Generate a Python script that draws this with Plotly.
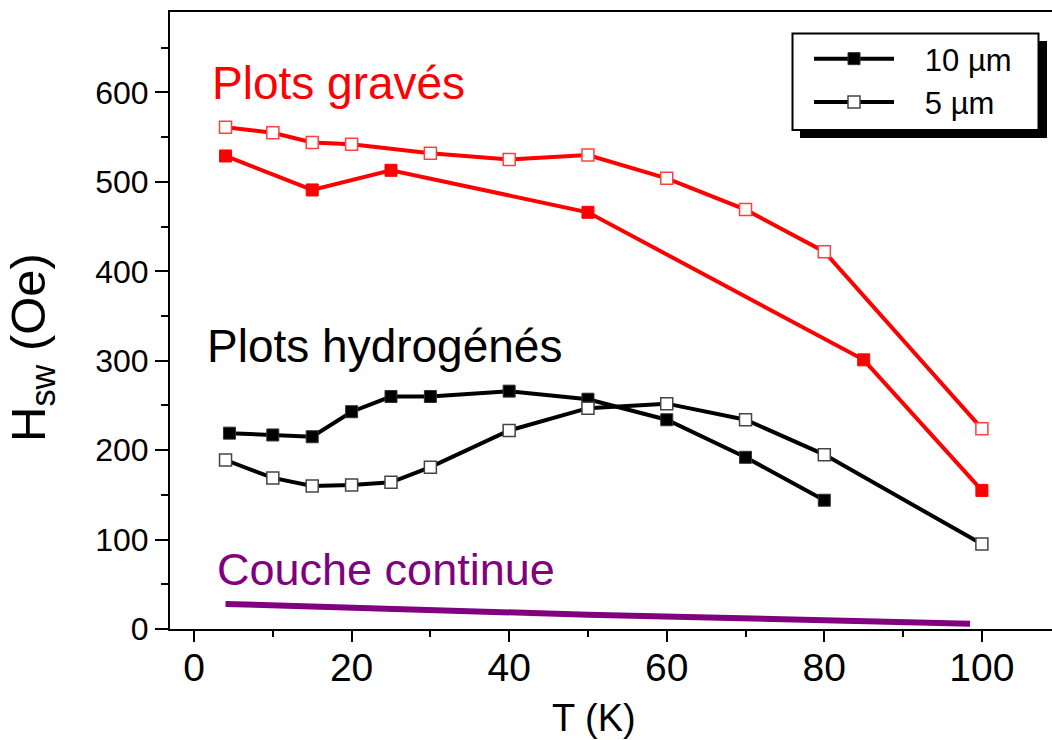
import plotly.graph_objects as go

# Switching field vs temperature
T_grave_10 = [4, 15, 25, 50, 85, 100]
H_grave_10 = [529, 491, 513, 466, 301, 155]

T_grave_5 = [4, 10, 15, 20, 30, 40, 50, 60, 70, 80, 100]
H_grave_5 = [561, 555, 544, 542, 532, 525, 530, 504, 469, 422, 224]

T_hydro_10 = [4.5, 10, 15, 20, 25, 30, 40, 50, 60, 70, 80]
H_hydro_10 = [219, 217, 215, 243, 260, 260, 266, 257, 234, 192, 144]

T_hydro_5 = [4, 10, 15, 20, 25, 30, 40, 50, 60, 70, 80, 100]
H_hydro_5 = [189, 169, 160, 161, 164, 181, 222, 247, 252, 234, 195, 95]

T_couche = [4, 50, 98.5]
H_couche = [28, 16, 6]

x_ticks = [0, 20, 40, 60, 80, 100]
y_ticks = [0, 100, 200, 300, 400, 500, 600]

RED = "#FF0000"
PURPLE = "#800080"
FONT = "Arial, Liberation Sans, sans-serif"
GAP = "\u00a0" * 3  # spacing between legend symbol and label

W, H = 1052, 740
ML, MR, MT, MB = 170, 0, 12, 111
PW, PH = W - ML - MR, H - MT - MB


def px(x):
    return (x - ML) / PW


def py(y):
    return (H - MB - y) / PH


fig = go.Figure()

fig.add_trace(go.Scatter(
    x=T_grave_5, y=H_grave_5, mode="lines+markers", showlegend=False,
    line=dict(color=RED, width=4),
    marker=dict(symbol="square", size=12, color="white",
                line=dict(color="#FF4040", width=1.5)),
))
fig.add_trace(go.Scatter(
    x=T_grave_10, y=H_grave_10, mode="lines+markers", showlegend=False,
    line=dict(color=RED, width=4),
    marker=dict(symbol="square", size=12, color=RED,
                line=dict(color=RED, width=1)),
))
fig.add_trace(go.Scatter(
    x=T_hydro_10, y=H_hydro_10, mode="lines+markers", name=GAP + "10 µm",
    line=dict(color="black", width=4),
    marker=dict(symbol="square", size=12, color="black",
                line=dict(color="#333333", width=1)),
))
fig.add_trace(go.Scatter(
    x=T_hydro_5, y=H_hydro_5, mode="lines+markers", name=GAP + "5 µm",
    line=dict(color="black", width=4),
    marker=dict(symbol="square", size=12, color="white",
                line=dict(color="#444444", width=1.5)),
))
fig.add_trace(go.Scatter(
    x=T_couche, y=H_couche, mode="lines", showlegend=False,
    line=dict(color=PURPLE, width=6),
))

# legend frame with drop shadow
shapes = [
    dict(type="rect", xref="paper", yref="paper", layer="above",
         x0=px(800), x1=px(1047), y0=py(41), y1=py(138),
         fillcolor="black", line=dict(width=0)),
    dict(type="rect", xref="paper", yref="paper", layer="above",
         x0=px(792.5), x1=px(1038.5), y0=py(33.5), y1=py(130),
         fillcolor="white", line=dict(color="black", width=2)),
]

annotations = [
    dict(text="Plots gravés", x=2.0, y=611, xref="x", yref="y",
         xanchor="left", yanchor="middle", showarrow=False,
         font=dict(size=46, color=RED, family=FONT)),
    dict(text="Plots hydrogénés", x=1.4, y=316, xref="x", yref="y",
         xanchor="left", yanchor="middle", showarrow=False,
         font=dict(size=46, color="black", family=FONT)),
    dict(text="Couche continue", x=2.7, y=67, xref="x", yref="y",
         xanchor="left", yanchor="middle", showarrow=False,
         font=dict(size=45, color=PURPLE, family=FONT)),
    dict(text="T (K)", x=px(594), y=py(718), xref="paper", yref="paper",
         xanchor="center", yanchor="middle", showarrow=False,
         font=dict(size=38, color="black", family=FONT)),
    dict(text="H<sub>sw</sub> (Oe)", x=px(32), y=py(348),
         xref="paper", yref="paper", textangle=-90,
         xanchor="center", yanchor="middle", showarrow=False,
         font=dict(size=49, color="black", family=FONT)),
]

fig.update_layout(
    width=W, height=H,
    margin=dict(l=ML, r=MR, t=MT, b=MB),
    paper_bgcolor="white", plot_bgcolor="white",
    font=dict(family=FONT, color="black"),
    shapes=shapes,
    annotations=annotations,
    legend=dict(
        x=px(809), y=py(32), xanchor="left", yanchor="top",
        bgcolor="rgba(0,0,0,0)", borderwidth=0,
        font=dict(size=31, family=FONT, color="black"),
        itemwidth=80, tracegroupgap=0,
    ),
)

fig.update_xaxes(
    range=[-3.05, 108.9],
    tickvals=x_ticks, ticktext=[str(v) for v in x_ticks],
    ticks="outside", ticklen=11, tickwidth=2, tickcolor="black",
    minor=dict(dtick=10, tick0=0, ticks="outside", ticklen=6,
               tickwidth=2, tickcolor="black"),
    tickfont=dict(size=39, family=FONT, color="black"),
    ticklabelstandoff=-8,
    showline=True, linewidth=2, linecolor="black", mirror=True,
    showgrid=False, zeroline=False,
)
fig.update_yaxes(
    range=[0, 690],
    tickvals=y_ticks, ticktext=[str(v) for v in y_ticks],
    ticks="outside", ticklen=13, tickwidth=2, tickcolor="black",
    minor=dict(dtick=50, tick0=0, ticks="outside", ticklen=7,
               tickwidth=2, tickcolor="black"),
    tickfont=dict(size=32, family=FONT, color="black"),
    showline=True, linewidth=2, linecolor="black", mirror=False,
    showgrid=False, zeroline=False,
)

fig.write_html("out.html")
